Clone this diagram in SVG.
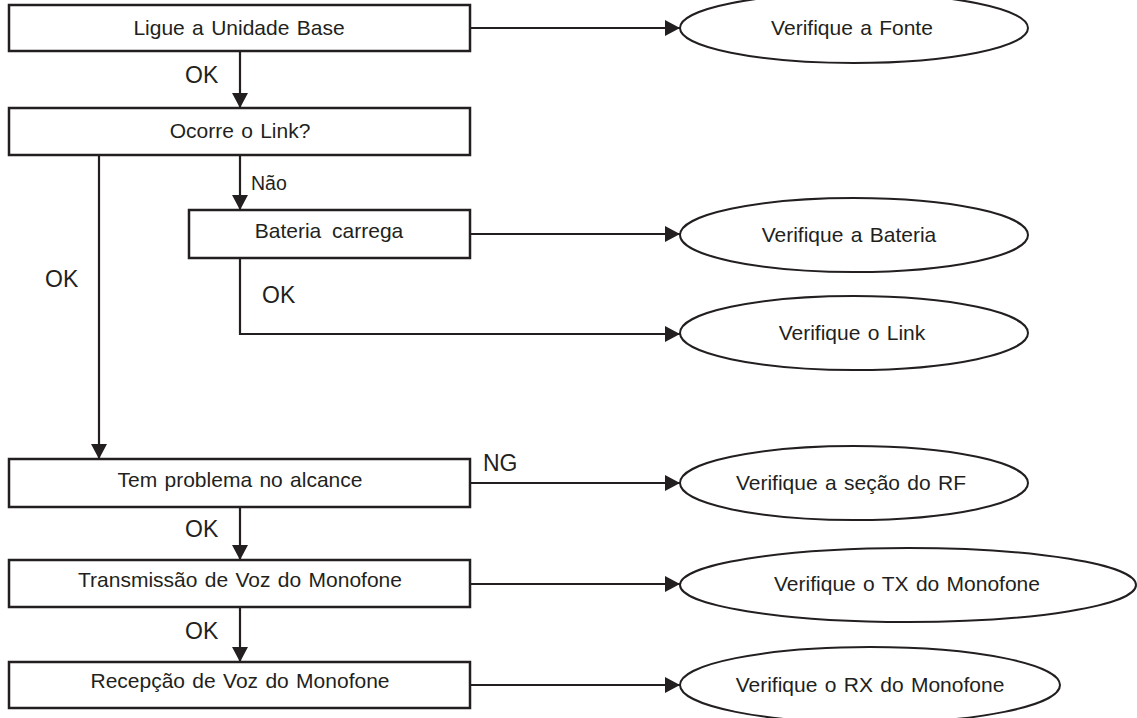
<svg xmlns="http://www.w3.org/2000/svg" width="1137" height="718" viewBox="0 0 1137 718">
<style>
.box{fill:#fff;stroke:#231f20;stroke-width:2.5}
.ell{fill:#fff;stroke:#231f20;stroke-width:2}
.t{font-family:"Liberation Sans",Arial,sans-serif;font-size:21px;fill:#231f20;text-anchor:middle;word-spacing:1.5px}
.lbl{font-family:"Liberation Sans",Arial,sans-serif;font-size:23px;fill:#231f20}
.c{fill:none;stroke:#231f20;stroke-width:2.2}
</style>
<defs>
<marker id="ah" viewBox="0 0 15 16" refX="15" refY="8" markerWidth="15" markerHeight="16" markerUnits="userSpaceOnUse" orient="auto">
<path d="M0,0 L15,8 L0,16 z" fill="#231f20"/>
</marker>
</defs>
<rect width="1137" height="718" fill="#fff"/>
<g id="connectors">
<path class="c" d="M470,28 H680" marker-end="url(#ah)"/>
<path class="c" d="M240,51 V108" marker-end="url(#ah)"/>
<path class="c" d="M99,155 V459" marker-end="url(#ah)"/>
<path class="c" d="M240,155 V210" marker-end="url(#ah)"/>
<path class="c" d="M470,234 H680" marker-end="url(#ah)"/>
<path class="c" d="M240,258 V334 H680" marker-end="url(#ah)"/>
<path class="c" d="M470,483 H680" marker-end="url(#ah)"/>
<path class="c" d="M240,507 V560" marker-end="url(#ah)"/>
<path class="c" d="M470,584 H680" marker-end="url(#ah)"/>
<path class="c" d="M240,607 V662" marker-end="url(#ah)"/>
<path class="c" d="M470,685 H680" marker-end="url(#ah)"/>
<text class="lbl" x="185" y="83">OK</text>
<text class="lbl" x="45" y="287">OK</text>
<text class="lbl" x="251" y="190" style="font-size:19.5px">Não</text>
<text class="lbl" x="262" y="303">OK</text>
<text class="lbl" x="483" y="471">NG</text>
<text class="lbl" x="185" y="537">OK</text>
<text class="lbl" x="185" y="639">OK</text>
</g>
<g id="n1"><rect class="box" x="9" y="5" width="461" height="46"/><text class="t" x="239" y="35">Ligue a Unidade Base</text></g>
<g id="n2"><rect class="box" x="9" y="108" width="461" height="47"/><text class="t" x="240" y="138">Ocorre o Link?</text></g>
<g id="n3"><rect class="box" x="189" y="210" width="281" height="48"/><text class="t" x="329" y="238" style="word-spacing:5px">Bateria carrega</text></g>
<g id="n4"><rect class="box" x="9" y="459" width="461" height="48"/><text class="t" x="240" y="487">Tem problema no alcance</text></g>
<g id="n5"><rect class="box" x="9" y="560" width="461" height="47"/><text class="t" x="240" y="587">Transmissão de Voz do Monofone</text></g>
<g id="n6"><rect class="box" x="9" y="662" width="461" height="46"/><text class="t" x="240" y="688">Recepção de Voz do Monofone</text></g>
<g id="e1"><ellipse class="ell" cx="854" cy="28" rx="174" ry="35"/><text class="t" x="852" y="35">Verifique a Fonte</text></g>
<g id="e2"><ellipse class="ell" cx="854" cy="235" rx="174" ry="37"/><text class="t" x="849" y="242">Verifique a Bateria</text></g>
<g id="e3"><ellipse class="ell" cx="854" cy="333" rx="174" ry="37"/><text class="t" x="852" y="340">Verifique o Link</text></g>
<g id="e4"><ellipse class="ell" cx="854" cy="483" rx="174" ry="37"/><text class="t" x="851" y="490">Verifique a seção do RF</text></g>
<g id="e5"><ellipse class="ell" cx="908" cy="585" rx="228" ry="37"/><text class="t" x="907" y="591">Verifique o TX do Monofone</text></g>
<g id="e6"><ellipse class="ell" cx="870" cy="685" rx="190" ry="38"/><text class="t" x="870" y="692">Verifique o RX do Monofone</text></g>
</svg>
